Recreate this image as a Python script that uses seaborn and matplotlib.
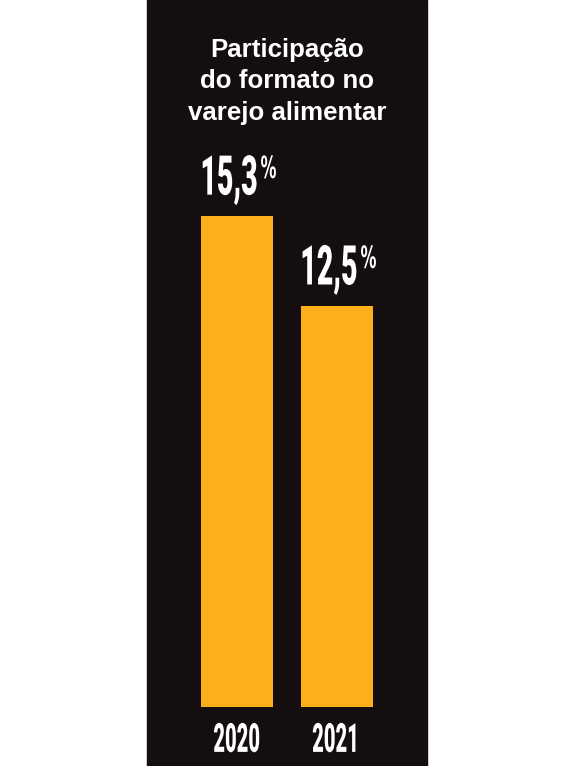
import matplotlib
matplotlib.use("Agg")
import matplotlib.pyplot as plt
import seaborn as sns
import pandas as pd
from matplotlib import patheffects
from matplotlib.patches import Rectangle
from matplotlib.transforms import Affine2D

# --- data -------------------------------------------------------------
years = ["2020", "2021"]
shares = [15.3, 12.5]
value_labels = ["15,3", "12,5"]
title_lines = ["Participação", "do formato no", "varejo alimentar"]

PANEL = "#140e0e"
BAR = "#fcaf18"
W, H = 562, 766


class Squeeze(patheffects.AbstractPathEffect):
    """Draw text glyphs horizontally compressed around an anchor edge."""

    def __init__(self, sx, anchor="center"):
        super().__init__()
        self.sx = sx
        self.anchor = anchor

    def draw_path(self, renderer, gc, tpath, affine, rgbFace=None):
        ext = tpath.get_extents()
        cx = {"left": ext.x0, "right": ext.x1}.get(self.anchor, (ext.x0 + ext.x1) / 2)
        t = Affine2D().translate(-cx, 0).scale(self.sx, 1).translate(cx, 0) + affine
        renderer.draw_path(gc, tpath, t, rgbFace)


sns.set_theme(style="white")
plt.rcParams["font.family"] = ["Roboto", "DejaVu Sans"]

fig = plt.figure(figsize=(W / 100, H / 100), dpi=100, facecolor="white")

# dark panel behind the chart
px0, px1 = 147, 427
fig.patches.append(Rectangle((px0 / W, 0), (px1 - px0) / W, 1,
                             transform=fig.transFigure, color=PANEL, zorder=-5))

base_px = 707          # bar baseline, pixels from top
unit_px = 32.09        # pixels per percentage point
ax = fig.add_axes([px0 / W, (H - base_px) / H, (px1 - px0) / W, base_px / H])
ax.set_facecolor("none")
ax.set_zorder(2)

df = pd.DataFrame({"ano": years, "share": shares})
sns.barplot(data=df, x="ano", y="share", color=BAR, saturation=1,
            width=0.72, linewidth=0, edgecolor=BAR, ax=ax)

ax.set_xlim(-0.9, 1.9)
ax.set_ylim(0, base_px / unit_px)
ax.set_xlabel("")
ax.set_ylabel("")
ax.set_yticks([])
for s in ax.spines.values():
    s.set_visible(False)
ax.tick_params(axis="x", length=0, pad=10, colors="white")
for lab in ax.get_xticklabels():
    lab.set_fontsize(29)
    lab.set_fontweight("heavy")
    lab.set_color("white")
    lab.set_path_effects([Squeeze(0.5, "center")])

# value labels: condensed number with a small raised percent sign
for i, (v, txt) in enumerate(zip(shares, value_labels)):
    ax.annotate(txt, xy=(i, v), xytext=(15.6, 15.4), textcoords="offset points",
                ha="right", va="baseline", color="white", fontsize=39.5,
                fontweight="heavy", path_effects=[Squeeze(0.52, "right")])
    ax.annotate("%", xy=(i, v), xytext=(16.6, 27.4), textcoords="offset points",
                ha="left", va="baseline", color="white", fontsize=22,
                fontweight="bold", family=["DejaVu Sans"],
                path_effects=[Squeeze(0.52, "left")])

# three-line heading
for k, line in enumerate(title_lines):
    fig.text(287 / W, 1 - (57 + 31.5 * k) / H, line, ha="center", va="baseline",
             color="white", fontsize=18.6, fontweight="bold",
             family=["Liberation Sans", "DejaVu Sans"])

fig.savefig("out.png", dpi=100, facecolor="white")
